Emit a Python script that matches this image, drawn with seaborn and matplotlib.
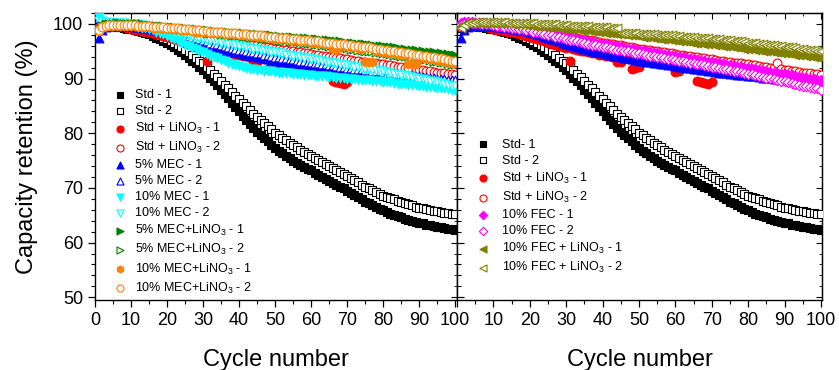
import matplotlib
matplotlib.use("Agg")
import matplotlib.pyplot as plt
import seaborn as sns
from matplotlib.ticker import MultipleLocator

CYCLES = list(range(1, 101))

# capacity retention (%) per cycle
STD_1 = [
    99.3, 99.5, 99.6, 99.6, 99.6, 99.5, 99.4, 99.2, 99.1, 99.0,
    98.9, 98.7, 98.5, 98.3, 98.1, 97.8, 97.5, 97.2, 96.9, 96.5,
    96.1, 95.7, 95.2, 94.8, 94.3, 93.8, 93.3, 92.8, 92.2, 91.6,
    90.9, 90.2, 89.5, 88.8, 88.0, 87.2, 86.4, 85.6, 84.8, 84.0,
    83.2, 82.4, 81.7, 81.0, 80.3, 79.7, 79.1, 78.5, 77.9, 77.3,
    76.8, 76.3, 75.9, 75.4, 75.0, 74.6, 74.2, 73.9, 73.5, 73.2,
    72.8, 72.4, 72.0, 71.7, 71.3, 70.9, 70.6, 70.2, 69.9, 69.5,
    69.1, 68.7, 68.3, 67.9, 67.5, 67.2, 66.9, 66.5, 66.2, 65.9,
    65.6, 65.3, 65.1, 64.8, 64.6, 64.4, 64.2, 64.0, 63.8, 63.6,
    63.5, 63.3, 63.2, 63.0, 62.9, 62.8, 62.7, 62.5, 62.4, 62.3,
]
STD_2 = [
    99.5, 99.6, 99.7, 99.8, 99.8, 99.8, 99.7, 99.6, 99.5, 99.4,
    99.3, 99.1, 99.0, 98.8, 98.6, 98.4, 98.1, 97.8, 97.5, 97.2,
    96.9, 96.5, 96.1, 95.7, 95.3, 94.8, 94.3, 93.8, 93.3, 92.8,
    92.2, 91.6, 90.9, 90.3, 89.6, 88.9, 88.2, 87.5, 86.9, 86.2,
    85.5, 84.9, 84.2, 83.6, 83.0, 82.4, 81.8, 81.3, 80.7, 80.1,
    79.6, 79.2, 78.7, 78.3, 77.8, 77.4, 77.0, 76.6, 76.2, 75.8,
    75.4, 75.1, 74.7, 74.4, 74.0, 73.6, 73.3, 72.9, 72.6, 72.2,
    71.8, 71.4, 71.0, 70.6, 70.2, 69.9, 69.6, 69.2, 68.9, 68.6,
    68.4, 68.1, 67.9, 67.6, 67.4, 67.2, 67.0, 66.8, 66.6, 66.4,
    66.3, 66.1, 66.0, 65.8, 65.7, 65.6, 65.5, 65.4, 65.3, 65.2,
]
LINO3_1 = [
    99.4, 99.6, 99.7, 99.8, 99.8, 99.7, 99.6, 99.4, 99.2, 99.0,
    98.9, 98.8, 98.7, 98.6, 98.5, 98.3, 98.1, 97.9, 97.8, 97.6,
    97.4, 97.2, 97.0, 96.8, 96.6, 96.4, 96.2, 96.0, 95.8, 95.6,
    93.2, 95.4, 95.2, 95.1, 95.0, 94.8, 94.7, 94.6, 94.4, 94.3,
    94.2, 94.1, 94.0, 93.0, 93.1, 93.7, 93.6, 91.8, 92.0, 92.2,
    93.3, 93.2, 93.1, 93.0, 93.0, 92.9, 92.8, 92.7, 92.7, 91.2,
    91.3, 92.5, 92.4, 92.3, 92.2, 89.6, 89.4, 89.2, 89.0, 89.3,
    91.7, 91.6, 91.6, 91.5, 91.4, 91.3, 91.2, 91.2, 91.1, 91.0,
    90.9, 90.9, 90.8, 90.7, 90.6, 90.6, 90.5, 90.4, 90.4, 90.3,
    90.2, 90.2, 90.1, 90.0, 90.0, 89.9, 89.8, 89.7, 89.7, 89.6,
]
LINO3_2 = [
    99.5, 99.7, 99.8, 99.9, 99.9, 99.9, 99.9, 99.9, 99.8, 99.8,
    99.7, 99.7, 99.6, 99.5, 99.5, 99.4, 99.3, 99.2, 99.1, 99.0,
    98.9, 98.8, 98.7, 98.5, 98.4, 98.3, 98.2, 98.1, 97.9, 97.8,
    97.7, 97.6, 97.4, 97.3, 97.2, 97.1, 97.0, 96.8, 96.7, 96.6,
    96.5, 96.4, 96.3, 96.2, 96.1, 96.0, 95.8, 95.7, 95.6, 95.5,
    95.4, 95.3, 95.2, 95.1, 95.0, 94.9, 94.8, 94.7, 94.6, 94.5,
    94.4, 94.3, 94.2, 94.1, 94.0, 93.9, 93.8, 93.7, 93.6, 93.5,
    93.4, 93.3, 93.2, 93.1, 93.0, 92.9, 92.9, 92.8, 92.7, 92.6,
    92.5, 92.4, 92.3, 92.2, 92.1, 92.0, 91.9, 92.8, 91.7, 91.6,
    91.5, 91.4, 91.3, 91.2, 91.1, 91.1, 91.0, 90.9, 90.8, 90.7,
]
MEC5_1 = [
    97.5, 98.9, 99.4, 99.6, 99.7, 99.7, 99.7, 99.7, 99.6, 99.6,
    99.5, 99.4, 99.3, 99.2, 99.1, 99.0, 98.9, 98.8, 98.7, 98.5,
    98.3, 98.1, 97.9, 97.7, 97.5, 97.3, 97.1, 96.9, 96.6, 96.4,
    96.2, 96.0, 95.8, 95.6, 95.4, 95.3, 95.1, 94.9, 94.8, 94.6,
    94.5, 94.3, 94.2, 94.1, 93.9, 93.8, 93.7, 93.6, 93.4, 93.3,
    93.2, 93.1, 93.0, 92.9, 92.8, 92.7, 92.6, 92.5, 92.4, 92.3,
    92.2, 92.1, 92.0, 91.9, 91.8, 91.7, 91.6, 91.5, 91.4, 91.3,
    91.2, 91.1, 91.1, 91.0, 90.9, 90.8, 90.7, 90.7, 90.6, 90.5,
    90.4, 90.4, 90.3, 90.2, 90.1, 90.1, 90.0, 89.9, 89.9, 89.8,
    89.7, 89.7, 89.6, 89.5, 89.4, 89.4, 89.3, 89.2, 89.2, 89.1,
]
MEC5_2 = [
    101.0, 100.3, 100.1, 100.1, 100.1, 100.1, 100.1, 100.0, 100.0, 100.0,
    99.9, 99.9, 99.8, 99.7, 99.6, 99.5, 99.4, 99.3, 99.2, 99.0,
    98.8, 98.6, 98.4, 98.2, 98.0, 97.8, 97.6, 97.4, 97.2, 97.0,
    96.8, 96.6, 96.4, 96.3, 96.1, 95.9, 95.8, 95.6, 95.5, 95.3,
    95.2, 95.0, 94.9, 94.8, 94.7, 94.6, 94.4, 94.3, 94.1, 94.0,
    93.9, 93.8, 93.7, 93.6, 93.5, 93.4, 93.3, 93.2, 93.1, 93.0,
    92.9, 92.8, 92.7, 92.6, 92.5, 92.4, 92.3, 92.2, 92.1, 92.0,
    91.9, 91.8, 91.8, 91.7, 91.6, 91.5, 91.4, 91.4, 91.3, 91.2,
    91.1, 91.0, 91.0, 90.9, 90.8, 90.7, 90.6, 90.6, 90.5, 90.4,
    90.3, 90.3, 90.2, 90.1, 90.0, 90.0, 89.9, 89.8, 89.8, 89.7,
]
MEC10_1 = [
    101.3, 100.5, 100.2, 100.1, 100.0, 99.9, 99.9, 99.8, 99.8, 99.7,
    99.6, 99.5, 99.3, 99.2, 99.0, 98.8, 98.6, 98.3, 98.1, 97.8,
    97.5, 97.2, 96.9, 96.5, 96.2, 95.9, 95.6, 95.4, 95.1, 94.8,
    94.5, 94.2, 93.9, 93.7, 93.4, 93.2, 92.9, 92.7, 92.5, 92.3,
    92.1, 92.0, 91.8, 91.7, 91.6, 91.5, 91.4, 91.3, 91.3, 91.2,
    91.1, 91.1, 91.0, 91.0, 90.9, 90.9, 90.8, 90.7, 90.7, 90.6,
    90.5, 90.5, 90.4, 90.4, 90.3, 90.3, 90.2, 90.1, 90.1, 90.0,
    89.9, 89.9, 89.8, 89.8, 89.7, 89.7, 89.6, 89.5, 89.5, 89.4,
    89.3, 89.3, 89.2, 89.1, 89.1, 89.0, 88.9, 88.9, 88.8, 88.7,
    88.6, 88.5, 88.5, 88.4, 88.3, 88.2, 88.2, 88.1, 88.0, 87.9,
]
MEC10_2 = [
    100.5, 100.4, 100.3, 100.2, 100.2, 100.1, 100.1, 100.1, 100.0, 100.0,
    99.9, 99.9, 99.8, 99.7, 99.6, 99.5, 99.4, 99.3, 99.1, 99.0,
    98.8, 98.6, 98.5, 98.3, 98.1, 97.9, 97.8, 97.6, 97.4, 97.2,
    97.1, 97.0, 96.9, 96.8, 96.6, 96.5, 96.4, 96.3, 96.1, 96.0,
    95.9, 95.8, 95.6, 95.5, 95.4, 95.3, 95.2, 95.0, 94.9, 94.8,
    94.7, 94.6, 94.4, 94.3, 94.2, 94.1, 94.0, 93.8, 93.7, 93.6,
    93.5, 93.4, 93.2, 93.1, 93.0, 92.9, 92.8, 92.6, 92.5, 92.4,
    92.3, 92.2, 92.1, 92.0, 91.8, 91.7, 91.6, 91.5, 91.4, 91.3,
    91.2, 91.1, 90.9, 90.8, 90.7, 90.6, 90.4, 90.3, 90.2, 90.0,
    89.9, 89.7, 89.6, 89.5, 89.3, 89.2, 89.0, 88.9, 88.7, 88.6,
]
MEC5_LINO3_1 = [
    98.8, 99.6, 99.9, 100.0, 100.0, 100.1, 100.1, 100.0, 100.0, 100.0,
    99.9, 99.9, 99.9, 99.8, 99.8, 99.7, 99.7, 99.6, 99.6, 99.5,
    99.4, 99.4, 99.3, 99.3, 99.2, 99.1, 99.1, 99.0, 98.9, 98.8,
    98.8, 98.7, 98.7, 98.6, 98.6, 98.5, 98.5, 98.4, 98.4, 98.3,
    98.3, 98.2, 98.2, 98.1, 98.1, 98.0, 98.0, 97.9, 97.9, 97.8,
    97.8, 97.7, 97.7, 97.6, 97.6, 97.5, 97.5, 97.4, 97.4, 97.3,
    97.2, 97.2, 97.1, 97.0, 97.0, 96.9, 96.8, 96.8, 96.7, 96.6,
    96.5, 96.5, 96.4, 96.3, 96.3, 96.2, 96.1, 96.0, 96.0, 95.9,
    95.8, 95.7, 95.7, 95.6, 95.5, 95.4, 95.3, 95.3, 95.2, 95.1,
    95.0, 94.9, 94.9, 94.8, 94.7, 94.6, 94.5, 94.5, 94.4, 94.3,
]
MEC5_LINO3_2 = [
    99.0, 99.6, 99.8, 99.9, 100.0, 100.0, 100.0, 100.0, 100.0, 100.0,
    99.9, 99.9, 99.8, 99.8, 99.7, 99.6, 99.6, 99.5, 99.4, 99.3,
    99.2, 99.2, 99.1, 99.0, 98.9, 98.8, 98.8, 98.7, 98.6, 98.5,
    98.4, 98.4, 98.3, 98.3, 98.2, 98.1, 98.1, 98.0, 98.0, 97.9,
    97.8, 97.8, 97.7, 97.6, 97.6, 97.5, 97.4, 97.4, 97.3, 97.2,
    97.1, 97.1, 97.0, 96.9, 96.9, 96.8, 96.7, 96.6, 96.6, 96.5,
    96.4, 96.3, 96.2, 96.1, 96.0, 96.0, 95.9, 95.8, 95.7, 95.6,
    95.5, 95.4, 95.3, 95.2, 95.1, 95.1, 95.0, 94.9, 94.8, 94.7,
    94.6, 94.5, 94.4, 94.3, 94.2, 94.2, 94.1, 94.0, 93.9, 93.7,
    93.6, 93.5, 93.4, 93.3, 93.2, 93.1, 93.0, 92.9, 92.7, 92.6,
]
MEC10_LINO3_1 = [
    98.7, 99.3, 99.6, 99.7, 99.7, 99.7, 99.7, 99.7, 99.7, 99.6,
    99.6, 99.5, 99.5, 99.4, 99.4, 99.3, 99.3, 99.2, 99.2, 99.1,
    99.1, 99.0, 99.0, 98.9, 98.8, 98.8, 98.7, 98.6, 98.6, 98.5,
    98.5, 98.4, 98.4, 98.3, 98.3, 98.2, 98.2, 98.1, 98.1, 98.0,
    97.9, 97.9, 97.8, 97.8, 97.7, 97.7, 97.6, 97.5, 97.5, 97.4,
    97.3, 97.3, 97.2, 97.1, 97.1, 97.0, 96.9, 96.9, 96.8, 96.7,
    96.6, 96.6, 96.5, 96.4, 96.3, 95.4, 95.3, 96.1, 96.0, 95.9,
    95.8, 95.7, 95.6, 95.5, 93.1, 93.0, 93.0, 95.1, 95.0, 94.9,
    94.8, 94.7, 94.6, 94.5, 94.4, 94.3, 92.7, 92.6, 92.6, 93.9,
    93.8, 93.7, 93.6, 93.5, 93.4, 93.3, 93.2, 93.0, 92.9, 92.8,
]
MEC10_LINO3_2 = [
    98.9, 99.5, 99.7, 99.8, 99.8, 99.8, 99.8, 99.8, 99.8, 99.8,
    99.8, 99.7, 99.7, 99.6, 99.6, 99.5, 99.5, 99.4, 99.4, 99.3,
    99.3, 99.2, 99.2, 99.1, 99.0, 99.0, 98.9, 98.8, 98.8, 98.7,
    98.7, 98.6, 98.6, 98.5, 98.5, 98.4, 98.4, 98.3, 98.3, 98.2,
    98.1, 98.1, 98.0, 98.0, 97.9, 97.9, 97.8, 97.7, 97.7, 97.6,
    97.5, 97.5, 97.4, 97.3, 97.3, 97.2, 97.1, 97.1, 97.0, 96.9,
    96.8, 96.8, 96.7, 96.6, 96.6, 96.5, 96.4, 96.4, 96.3, 96.2,
    96.1, 96.0, 95.9, 95.8, 95.8, 95.7, 95.6, 95.5, 95.4, 95.3,
    95.2, 95.1, 95.0, 94.9, 94.8, 94.7, 94.6, 94.5, 94.4, 94.3,
    94.2, 94.1, 94.0, 93.9, 93.8, 93.7, 93.6, 93.4, 93.3, 93.2,
]
FEC10_1 = [
    100.2, 100.3, 100.3, 100.3, 100.2, 100.2, 100.1, 100.1, 100.0, 99.9,
    99.8, 99.8, 99.7, 99.6, 99.5, 99.4, 99.3, 99.2, 99.1, 99.0,
    98.9, 98.7, 98.6, 98.5, 98.3, 98.2, 98.0, 97.9, 97.7, 97.6,
    97.5, 97.3, 97.2, 97.1, 96.9, 96.8, 96.7, 96.6, 96.4, 96.3,
    96.2, 96.1, 96.0, 95.9, 95.7, 95.6, 95.5, 95.4, 95.3, 95.2,
    95.1, 95.0, 94.9, 94.7, 94.6, 94.5, 94.4, 94.3, 94.2, 94.1,
    94.0, 93.9, 93.8, 93.6, 93.5, 93.4, 93.3, 93.2, 93.1, 93.0,
    92.9, 92.8, 92.7, 92.5, 92.4, 92.3, 92.2, 92.1, 92.0, 91.9,
    91.8, 91.7, 91.6, 91.4, 91.3, 91.2, 91.1, 91.0, 90.9, 90.8,
    90.7, 90.6, 90.5, 90.3, 90.2, 90.1, 90.0, 89.9, 89.8, 89.7,
]
FEC10_2 = [
    99.8, 100.0, 100.1, 100.1, 100.1, 100.1, 100.0, 100.0, 99.9, 99.8,
    99.7, 99.6, 99.5, 99.4, 99.3, 99.2, 99.1, 99.0, 98.9, 98.8,
    98.6, 98.5, 98.3, 98.2, 98.0, 97.9, 97.7, 97.6, 97.4, 97.3,
    97.1, 97.0, 96.8, 96.7, 96.5, 96.4, 96.2, 96.1, 95.9, 95.8,
    95.7, 95.6, 95.4, 95.3, 95.2, 95.1, 95.0, 94.8, 94.7, 94.6,
    94.5, 94.4, 94.2, 94.1, 94.0, 93.9, 93.8, 93.6, 93.5, 93.4,
    93.3, 93.2, 93.0, 92.9, 92.8, 92.7, 92.6, 92.4, 92.3, 92.2,
    92.1, 91.9, 91.8, 91.7, 91.6, 91.4, 91.3, 91.2, 91.0, 90.9,
    90.8, 90.6, 90.5, 90.3, 90.2, 90.1, 89.9, 89.8, 89.6, 89.5,
    89.3, 89.2, 89.0, 88.9, 88.7, 88.6, 88.5, 88.3, 88.2, 88.0,
]
FEC10_LINO3_1 = [
    99.6, 99.9, 100.1, 100.2, 100.2, 100.2, 100.2, 100.2, 100.2, 100.2,
    100.2, 100.1, 100.1, 100.1, 100.0, 100.0, 99.9, 99.9, 99.8, 99.8,
    99.7, 99.7, 99.6, 99.6, 99.5, 99.5, 99.4, 99.3, 99.3, 99.2,
    99.1, 99.1, 99.0, 98.9, 98.9, 98.8, 98.7, 98.7, 98.6, 98.5,
    98.4, 98.4, 98.3, 98.2, 98.2, 98.1, 98.0, 97.9, 97.9, 97.8,
    97.7, 97.6, 97.6, 97.5, 97.4, 97.3, 97.2, 97.2, 97.1, 97.0,
    96.9, 96.9, 96.8, 96.7, 96.6, 96.6, 96.5, 96.4, 96.3, 96.3,
    96.2, 96.1, 96.0, 95.9, 95.9, 95.8, 95.7, 95.6, 95.5, 95.5,
    95.4, 95.3, 95.2, 95.1, 95.1, 95.0, 94.9, 94.8, 94.7, 94.7,
    94.6, 94.5, 94.4, 94.3, 94.3, 94.2, 94.1, 94.0, 93.9, 93.9,
]
FEC10_LINO3_2 = [
    99.2, 99.8, 100.1, 100.2, 100.3, 100.3, 100.3, 100.3, 100.3, 100.3,
    100.3, 100.3, 100.3, 100.2, 100.2, 100.2, 100.2, 100.1, 100.1, 100.1,
    100.1, 100.0, 100.0, 100.0, 99.9, 99.9, 99.9, 99.8, 99.8, 99.8,
    99.7, 99.7, 99.7, 99.6, 99.6, 99.6, 99.5, 99.5, 99.4, 99.4,
    99.4, 99.3, 99.3, 99.2, 98.4, 98.4, 98.3, 98.3, 98.3, 98.2,
    98.2, 98.2, 98.1, 98.1, 98.0, 98.0, 98.0, 97.9, 97.9, 97.8,
    97.8, 97.7, 97.7, 97.6, 97.6, 97.5, 97.5, 97.4, 97.4, 97.3,
    97.2, 97.2, 97.1, 97.0, 97.0, 96.9, 96.8, 96.8, 96.7, 96.6,
    96.5, 96.5, 96.4, 96.3, 96.2, 96.2, 96.1, 96.0, 95.9, 95.8,
    95.7, 95.7, 95.6, 95.5, 95.4, 95.3, 95.3, 95.2, 95.1, 95.0,
]

LNO = "LiNO$_3$"

# (values, marker, colour, filled, legend label, size)
LEFT_SERIES = [
    (STD_1, "s", "black", True, "Std - 1", 34),
    (STD_2, "s", "black", False, "Std - 2", 34),
    (LINO3_1, "o", "red", True, f"Std + {LNO} - 1", 40),
    (LINO3_2, "o", "red", False, f"Std + {LNO} - 2", 40),
    (MEC5_1, "^", "blue", True, "5% MEC - 1", 40),
    (MEC5_2, "^", "blue", False, "5% MEC - 2", 40),
    (MEC10_1, "v", "cyan", True, "10% MEC - 1", 40),
    (MEC10_2, "v", "cyan", False, "10% MEC - 2", 40),
    (MEC5_LINO3_1, ">", "green", True, f"5% MEC+{LNO} - 1", 40),
    (MEC5_LINO3_2, ">", "green", False, f"5% MEC+{LNO} - 2", 40),
    (MEC10_LINO3_1, "h", "#ff8000", True, f"10% MEC+{LNO} - 1", 40),
    (MEC10_LINO3_2, "o", "#ff8000", False, f"10% MEC+{LNO} - 2", 40),
]

RIGHT_SERIES = [
    (STD_1, "s", "black", True, "Std- 1", 34),
    (STD_2, "s", "black", False, "Std - 2", 34),
    (LINO3_1, "o", "red", True, f"Std + {LNO} - 1", 40),
    (LINO3_2, "o", "red", False, f"Std + {LNO} - 2", 40),
    (MEC5_1, "^", "blue", True, "_nolegend_", 40),
    (FEC10_1, "D", "magenta", True, "10% FEC - 1", 28),
    (FEC10_2, "D", "magenta", False, "10% FEC - 2", 28),
    (FEC10_LINO3_1, "<", "#808000", True, f"10% FEC + {LNO} - 1", 40),
    (FEC10_LINO3_2, "<", "#808000", False, f"10% FEC + {LNO} - 2", 40),
]


def draw_panel(ax, series):
    for vals, marker, color, filled, label, size in series:
        sns.scatterplot(
            x=CYCLES, y=vals, ax=ax, marker=marker, s=size,
            color=color if filled else "white", edgecolor=color,
            linewidth=0.8, label=label, zorder=3,
        )


def style_axes(ax, show_ylabels):
    ax.set_ylim(49.5, 102)
    ax.xaxis.set_major_locator(MultipleLocator(10))
    ax.xaxis.set_minor_locator(MultipleLocator(5))
    ax.yaxis.set_major_locator(MultipleLocator(10))
    ax.yaxis.set_minor_locator(MultipleLocator(2))
    ax.tick_params(which="major", direction="out", length=5, width=0.9,
                   labelsize=13, colors="black")
    ax.tick_params(which="minor", direction="out", length=3, width=0.8, colors="black")
    for sp in ax.spines.values():
        sp.set_linewidth(1.0)
        sp.set_color("black")
    # mirrored inner ticks on top / right, like the origin export
    top = ax.secondary_xaxis("top")
    top.xaxis.set_major_locator(MultipleLocator(10))
    top.xaxis.set_minor_locator(MultipleLocator(5))
    top.tick_params(which="both", direction="in", labeltop=False, colors="black")
    top.tick_params(which="major", length=4)
    top.tick_params(which="minor", length=2)
    right = ax.secondary_yaxis("right")
    right.yaxis.set_major_locator(MultipleLocator(10))
    right.yaxis.set_minor_locator(MultipleLocator(2))
    right.tick_params(which="both", direction="in", labelright=False, colors="black")
    right.tick_params(which="major", length=4)
    right.tick_params(which="minor", length=2)
    if not show_ylabels:
        ax.tick_params(axis="y", which="both", direction="in", labelleft=False)
    ax.set_xlabel("Cycle number", fontsize=17, labelpad=14.5, color="black")


def main():
    sns.set_style("ticks")
    plt.rcParams["font.family"] = ["Liberation Sans", "DejaVu Sans"]
    plt.rcParams["mathtext.default"] = "regular"
    plt.rcParams["text.color"] = "black"
    plt.rcParams["axes.labelcolor"] = "black"

    fig = plt.figure(figsize=(8.39, 3.70), dpi=100)
    ax1 = fig.add_axes([95 / 839, 70 / 370, 362 / 839, 287 / 370])
    ax2 = fig.add_axes([457 / 839, 70 / 370, 365 / 839, 287 / 370])

    draw_panel(ax1, LEFT_SERIES)
    draw_panel(ax2, RIGHT_SERIES)

    ax1.set_xlim(0, 100.5)
    ax2.set_xlim(0, 100.3)
    style_axes(ax1, True)
    style_axes(ax2, False)
    ax2.set_xticks(range(0, 101, 10))
    ax2.set_xticklabels([""] + [str(v) for v in range(10, 101, 10)])
    ax1.set_ylabel("Capacity retention (%)", fontsize=17, labelpad=11, color="black")
    ax2.set_ylabel("")

    leg_kw = dict(frameon=False, fontsize=9, borderpad=0, borderaxespad=0,
                  handlelength=1.0, labelspacing=0.32, loc="upper left",
                  markerscale=0.8)
    ax1.legend(bbox_to_anchor=(0.052, 0.735), handletextpad=0.7, **leg_kw)
    ax2.legend(bbox_to_anchor=(0.054, 0.562), handletextpad=1.0, **leg_kw)

    fig.savefig("out.png", dpi=100)
    plt.close(fig)


if __name__ == "__main__":
    main()
